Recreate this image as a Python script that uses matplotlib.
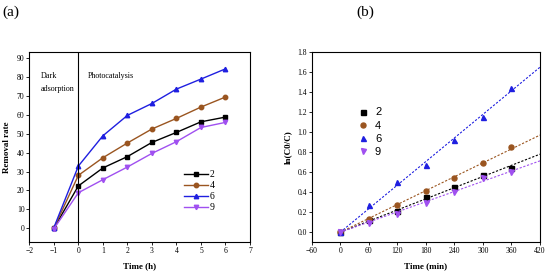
import numpy as np
import matplotlib
matplotlib.use("Agg")
import matplotlib.pyplot as plt

plt.rcParams['font.family'] = ['Liberation Serif', 'DejaVu Serif']

# ---- data (a) ----
time_h = [-1, 0, 1, 2, 3, 4, 5, 6]
labels = ['2', '4', '6', '9']
rate_2 = [0.0, 22.4, 31.9, 37.9, 45.4, 50.7, 56.3, 58.8]
rate_4 = [0.0, 28.0, 37.3, 45.1, 52.5, 58.1, 64.1, 69.4]
rate_6 = [0.3, 32.9, 48.9, 59.7, 66.0, 73.6, 78.9, 84.3]
rate_9 = [-0.3, 18.8, 25.7, 32.4, 39.6, 45.8, 53.3, 56.0]

# ---- data (b) ----
time_min = [0, 60, 120, 180, 240, 300, 360]
ln_2 = [0.0, 0.126, 0.216, 0.356, 0.456, 0.572, 0.642]
ln_4 = [0.0, 0.133, 0.273, 0.413, 0.539, 0.692, 0.852]
ln_6 = [0.0, 0.276, 0.502, 0.675, 0.925, 1.158, 1.447]
ln_9 = [0.0, 0.093, 0.183, 0.293, 0.399, 0.546, 0.605]

colors = ['#000000', '#9a5520', '#1f1fe0', '#a050f0']
markers = ['s', 'o', '^', 'v']

fig = plt.figure(figsize=(5.5, 2.77), dpi=100)
axa = fig.add_axes([0.0533, 0.1253, 0.4012, 0.6855])
axb = fig.add_axes([0.5667, 0.1253, 0.4151, 0.6855])

tick_fs = 5.5
for ax in (axa, axb):
    ax.tick_params(direction='out', length=2, width=0.6, labelsize=tick_fs, pad=1.5)
    for s in ax.spines.values():
        s.set_linewidth(0.8)

# (a)
for y, c, m, l in zip([rate_2, rate_4, rate_6, rate_9], colors, markers, labels):
    axa.plot(time_h, y, color=c, marker=m, markersize=3.2, linewidth=1.0, label=l)
axa.axvline(0, color='black', linewidth=0.8)
axa.set_xlim(-2, 7)
axa.set_ylim(-7.4, 93)
axa.set_xticks(range(-2, 8))
axa.set_yticks(range(0, 91, 10))
axa.set_xlabel('Time (h)', fontsize=6.5, fontweight='bold', labelpad=5)
axa.set_ylabel('Removal rate', fontsize=6.5, fontweight='bold', labelpad=4)
axa.text(-1.52, 80.5, 'Dark', fontsize=5.8, va='center', ha='left')
axa.text(-1.52, 73.5, 'adsorption', fontsize=5.8, va='center', ha='left')
axa.text(0.38, 80.5, 'Photocatalysis', fontsize=5.8, va='center', ha='left')
axa.legend(loc='center left', bbox_to_anchor=(0.68, 0.27), frameon=False, fontsize=7,
           handlelength=2.4, handletextpad=0.2, labelspacing=0.2, borderpad=0)

# (b)
xfit = np.array([0, 420])
for y, c, m, l in zip([ln_2, ln_4, ln_6, ln_9], colors, markers, labels):
    x = np.array(time_min, dtype=float)
    yy = np.array(y)
    k = np.sum(x * yy) / np.sum(x * x)
    axb.plot(xfit, k * xfit, color=c, linestyle=(0, (2, 1.5)), linewidth=0.8)
    axb.plot(time_min, y, linestyle='none', color=c, marker=m, markersize=3.6, label=l)
axb.set_xlim(-60, 420)
axb.set_ylim(-0.1, 1.8)
axb.set_xticks(range(-60, 421, 60))
axb.set_yticks(np.round(np.arange(0, 1.81, 0.2), 1))
axb.set_yticklabels([f'{v:.1f}' for v in np.arange(0, 1.81, 0.2)])
axb.set_xlabel('Time (min)', fontsize=6.5, fontweight='bold', labelpad=5)
axb.set_ylabel('ln(C0/C)', fontsize=6.5, fontweight='bold', labelpad=4)
axb.legend(loc='center left', bbox_to_anchor=(0.17, 0.58), frameon=False,
           prop={'family': ['Liberation Sans', 'DejaVu Sans'], 'size': 8},
           handlelength=1.2, handletextpad=0.5, labelspacing=0.28, borderpad=0)

fig.text(0.005, 0.955, '(a)', fontsize=11, va='center', ha='left')
fig.text(0.665, 0.955, '(b)', fontsize=11, va='center', ha='center')

fig.savefig('out.png', dpi=100)
